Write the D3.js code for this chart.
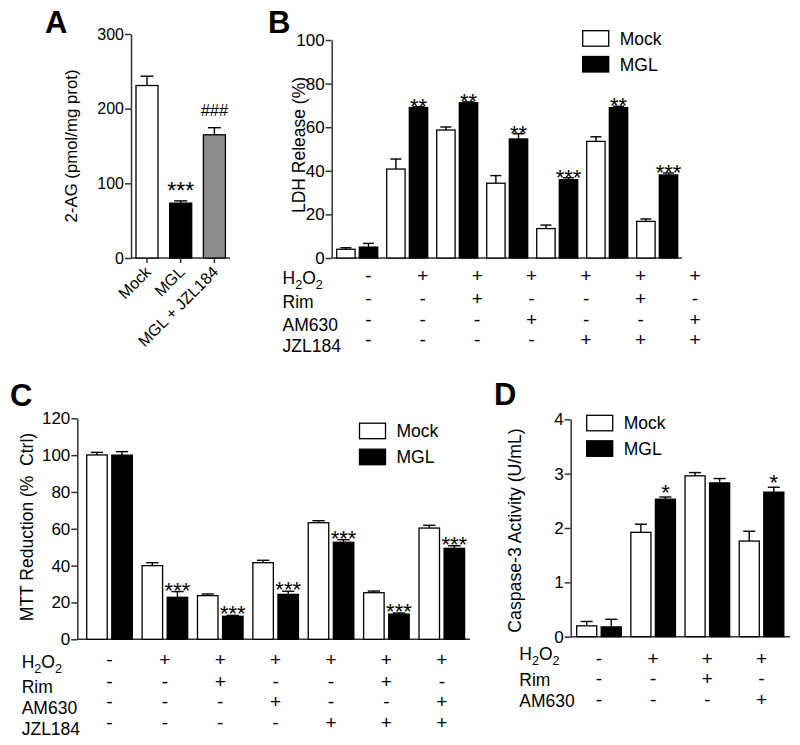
<!DOCTYPE html>
<html><head><meta charset="utf-8">
<script src="https://cdn.jsdelivr.net/npm/d3@7"></script>
<style>body{margin:0;background:#fff} text{font-family:Arial,"Liberation Sans",sans-serif;fill:#000}</style>
</head><body><svg id="c" width="800" height="745"></svg>
<script>
// ---------- DATA ----------
const seriesNames = ["Mock", "MGL"];

const aCategories = ["Mock", "MGL", "MGL + JZL184"];
const aValues = [231, 73.5, 165];
const aErrors = [12.5, 3, 9.5];
const aMarks = ["", "***", "###"];
const aTicks = [0, 100, 200, 300];

const bGroups = ["g1", "g2", "g3", "g4", "g5", "g6", "g7"];
const bMock = [4.0, 40.8, 58.7, 34.3, 13.5, 53.5, 16.8];
const bMockErr = [0.7, 4.6, 1.4, 3.5, 1.6, 2.1, 1.1];
const bMGL = [5.0, 69.0, 71.2, 54.6, 35.9, 69.0, 38.1];
const bMGLErr = [1.7, 0.4, 0.4, 2.4, 0.9, 0.6, 0.9];
const bMarks = ["", "**", "**", "**", "***", "**", "***"];
const bTicks = [0, 20, 40, 60, 80, 100];

const cGroups = ["g1", "g2", "g3", "g4", "g5", "g6", "g7"];
const cMock = [100.1, 40.0, 23.7, 41.6, 63.3, 25.3, 60.4];
const cMockErr = [1.4, 1.6, 0.9, 1.3, 1.1, 0.9, 1.5];
const cMGL = [100.0, 22.8, 12.5, 24.4, 52.7, 13.7, 49.4];
const cMGLErr = [1.9, 3.1, 0.5, 1.7, 1.4, 0.6, 1.4];
const cMarks = ["", "***", "***", "***", "***", "***", "***"];
const cTicks = [0, 20, 40, 60, 80, 100, 120];

const dGroups = ["g1", "g2", "g3", "g4"];
const dMock = [0.20, 1.92, 2.96, 1.76];
const dMockErr = [0.08, 0.15, 0.06, 0.18];
const dMGL = [0.18, 2.53, 2.83, 2.66];
const dMGLErr = [0.14, 0.04, 0.08, 0.09];
const dMarks = ["", "*", "", "*"];
const dTicks = [0, 1, 2, 3, 4];

const treatRows4 = ["H2O2", "Rim", "AM630", "JZL184"];
const treatTable7 = [
  ["-", "+", "+", "+", "+", "+", "+"],
  ["-", "-", "+", "-", "-", "+", "-"],
  ["-", "-", "-", "+", "-", "-", "+"],
  ["-", "-", "-", "-", "+", "+", "+"]
];
const treatRows3 = ["H2O2", "Rim", "AM630"];
const treatTable4 = [
  ["-", "+", "+", "+"],
  ["-", "-", "+", "-"],
  ["-", "-", "-", "+"]
];

// ---------- DRAWING ----------
const svg = d3.select("#c");
const AXIS_COLOR = "#333";
const fmt = d3.format("~g");

function styleAxis(g, fs) {
  g.selectAll("path.domain").attr("stroke", AXIS_COLOR).attr("stroke-width", 1.5);
  g.selectAll(".tick line").attr("stroke", AXIS_COLOR).attr("stroke-width", 1.5);
  g.selectAll(".tick text").attr("font-size", fs).attr("font-family", "Arial, 'Liberation Sans', sans-serif").attr("fill", "#000");
}

function panelLetter(letter, x, y) {
  svg.append("text").attr("x", x).attr("y", y).attr("font-size", 31).attr("font-weight", "bold").text(letter);
}

function yLabel(txt, x, y, fs) {
  svg.append("text").attr("transform", `translate(${x},${y}) rotate(-90)`)
    .attr("text-anchor", "middle").attr("font-size", fs).attr("xml:space", "preserve").text(txt);
}

function errBar(g, cx, yTop, yBar, cap) {
  g.append("line").attr("x1", cx).attr("x2", cx).attr("y1", yBar).attr("y2", yTop)
    .attr("stroke", "#000").attr("stroke-width", 1.4);
  g.append("line").attr("x1", cx - cap / 2).attr("x2", cx + cap / 2).attr("y1", yTop).attr("y2", yTop)
    .attr("stroke", "#000").attr("stroke-width", 1.4);
}

function rowLabel(txt, x, y, fs) {
  const t = svg.append("text").attr("x", x).attr("y", y).attr("font-size", fs);
  if (txt === "H2O2") {
    t.append("tspan").text("H");
    t.append("tspan").attr("font-size", fs * 0.72).attr("dy", 5).text("2");
    t.append("tspan").attr("dy", -5).text("O");
    t.append("tspan").attr("font-size", fs * 0.72).attr("dy", 5).text("2");
  } else t.text(txt);
}

function legend(x, y1, y2, fs) {
  const g = svg.append("g");
  [[seriesNames[0], "#fff", y1], [seriesNames[1], "#000", y2]].forEach(([name, fill, y]) => {
    g.append("rect").attr("x", x).attr("y", y - 8).attr("width", 26).attr("height", 15.5)
      .attr("fill", fill).attr("stroke", "#000").attr("stroke-width", 1.3);
    g.append("text").attr("x", x + 37).attr("y", y + 6).attr("font-size", fs).text(name);
  });
}

// Grouped panel
function groupedPanel(cfg) {
  const g = svg.append("g");
  const y = d3.scaleLinear().domain(cfg.yDomain).range([cfg.y0, cfg.y1]);
  const x = d3.scaleBand().domain(cfg.groups).range(cfg.xRange).paddingInner(cfg.pIn).paddingOuter(cfg.pOut);
  const xs = d3.scaleBand().domain(seriesNames).range([0, x.bandwidth()]).paddingInner(cfg.subPad);
  const ax = g.append("g").attr("transform", `translate(${cfg.axisX},0)`)
    .call(d3.axisLeft(y).tickValues(cfg.ticks).tickFormat(fmt).tickSize(6).tickSizeOuter(0).tickPadding(1));
  styleAxis(ax, cfg.tickFs);
  g.append("line").attr("x1", cfg.axisX).attr("x2", cfg.axisEnd).attr("y1", y(0)).attr("y2", y(0))
    .attr("stroke", AXIS_COLOR).attr("stroke-width", 1.5);
  const series = [[cfg.mock, cfg.mockErr, "#fff"], [cfg.mgl, cfg.mglErr, "#000"]];
  series.forEach(([vals, errs, fill], si) => {
    vals.forEach((v, i) => {
      const bx = x(cfg.groups[i]) + xs(seriesNames[si]);
      const bw = xs.bandwidth();
      g.append("rect").attr("x", bx).attr("y", y(v)).attr("width", bw).attr("height", y(0) - y(v))
        .attr("fill", fill).attr("stroke", "#000").attr("stroke-width", 1.3);
      errBar(g, bx + bw / 2, y(v + errs[i]), y(v), bw * 0.6);
      if (si === 1 && cfg.marks[i]) {
        g.append("text").attr("x", bx + bw / 2).attr("y", y(v + errs[i]) + cfg.markOff)
          .attr("text-anchor", "middle").attr("font-size", 22).text(cfg.marks[i]);
      }
    });
  });
  // table
  const colX = cfg.tableX ? cfg.tableX : (i) => x(cfg.groups[i]) + x.bandwidth() / 2;
  cfg.rows.forEach((r, ri) => {
    rowLabel(r, cfg.rowLabelX, cfg.rowLabelY[ri], 17.5);
    cfg.table[ri].forEach((s, ci) => {
      svg.append("text").attr("x", colX(ci)).attr("y", cfg.rowSymY[ri]).attr("text-anchor", "middle")
        .attr("font-size", 19).text(s);
    });
  });
  return {x, y};
}

// ---------- Panel A ----------
(function () {
  const g = svg.append("g");
  const y = d3.scaleLinear().domain([0, 300]).range([258, 34]);
  const x = d3.scaleBand().domain(aCategories).range([131, 230.4]).paddingInner(0.347).paddingOuter(0.148);
  const ax = g.append("g").attr("transform", "translate(131,0)")
    .call(d3.axisLeft(y).tickValues(aTicks).tickFormat(fmt).tickSize(6).tickSizeOuter(0).tickPadding(1));
  styleAxis(ax, 16);
  const xa = g.append("g").attr("transform", `translate(0,${y(0)})`)
    .call(d3.axisBottom(x).tickSize(5).tickSizeOuter(0).tickFormat(""));
  xa.select("path.domain").attr("stroke", AXIS_COLOR).attr("stroke-width", 1.5).attr("d", "M131,0H230");
  xa.selectAll(".tick line").attr("stroke", AXIS_COLOR).attr("stroke-width", 1.5);
  const fills = ["#fff", "#000", "#8c8c8c"];
  aCategories.forEach((c, i) => {
    const bx = x(c), bw = x.bandwidth();
    g.append("rect").attr("x", bx).attr("y", y(aValues[i])).attr("width", bw).attr("height", y(0) - y(aValues[i]))
      .attr("fill", fills[i]).attr("stroke", "#000").attr("stroke-width", 1.3);
    errBar(g, bx + bw / 2, y(aValues[i] + aErrors[i]), y(aValues[i]), 13);
    if (aMarks[i]) {
      const isHash = aMarks[i][0] === "#";
      g.append("text").attr("x", bx + bw / 2).attr("y", y(aValues[i] + aErrors[i]) + (isHash ? -12 : -2))
        .attr("text-anchor", "middle").attr("font-size", isHash ? 16.5 : 23).text(aMarks[i]);
    }
    g.append("text").attr("transform", `translate(${bx + bw / 2 + 5},273) rotate(-45)`)
      .attr("text-anchor", "end").attr("font-size", 16).text(c);
  });
  yLabel("2-AG (pmol/mg prot)", 76.5, 146, 16.8);
  panelLetter("A", 45, 33);
})();

// ---------- Panel B ----------
groupedPanel({
  groups: bGroups, mock: bMock, mockErr: bMockErr, mgl: bMGL, mglErr: bMGLErr, marks: bMarks, ticks: bTicks,
  yDomain: [0, 100], y0: 258, y1: 40, axisX: 331.7, axisEnd: 682, xRange: [331.7, 682.7], pIn: 0.18, pOut: 0.1, subPad: 0.186,
  tickFs: 17, markOff: 7,
  rows: treatRows4, table: treatTable7, rowLabelX: 282.5, rowLabelY: [283.5, 308, 330.5, 351.5], rowSymY: [282, 305, 326, 346],
  tableX: d3.scaleLinear().domain([0, 6]).range([368.3, 695])
});
yLabel("LDH Release (%)", 304.5, 145, 17.5);
panelLetter("B", 268, 33);
legend(582.7, 38.7, 64.5, 17.5);

// ---------- Panel C ----------
groupedPanel({
  groups: cGroups, mock: cMock, mockErr: cMockErr, mgl: cMGL, mglErr: cMGLErr, marks: cMarks, ticks: cTicks,
  yDomain: [0, 120], y0: 639.3, y1: 418.3, axisX: 77.3, axisEnd: 470, xRange: [77.3, 474], pIn: 0.177, pOut: 0.17, subPad: 0.183,
  tickFs: 17, markOff: 6,
  rows: treatRows4, table: treatTable7, rowLabelX: 21.7, rowLabelY: [668.3, 692.5, 714, 735], rowSymY: [665.5, 688, 707.5, 729]
});
yLabel("MTT Reduction (%  Ctrl)", 33, 527, 17.5);
panelLetter("C", 10, 406);
legend(359.5, 431.2, 457.2, 17.5);

// ---------- Panel D ----------
groupedPanel({
  groups: dGroups, mock: dMock, mockErr: dMockErr, mgl: dMGL, mglErr: dMGLErr, marks: dMarks, ticks: dTicks,
  yDomain: [0, 4], y0: 636.7, y1: 419.3, axisX: 570.7, axisEnd: 790, xRange: [570.7, 789.8], pIn: 0.177, pOut: 0.11, subPad: 0.183,
  tickFs: 17, markOff: 3,
  rows: treatRows3, table: treatTable4, rowLabelX: 519.3, rowLabelY: [660, 686, 707.3], rowSymY: [664.5, 685, 706]
});
yLabel("Caspase-3 Activity (U/mL)", 521, 530.5, 17.7);
panelLetter("D", 494, 405);
legend(586.7, 423.3, 448.8, 17.5);
</script></body></html>
